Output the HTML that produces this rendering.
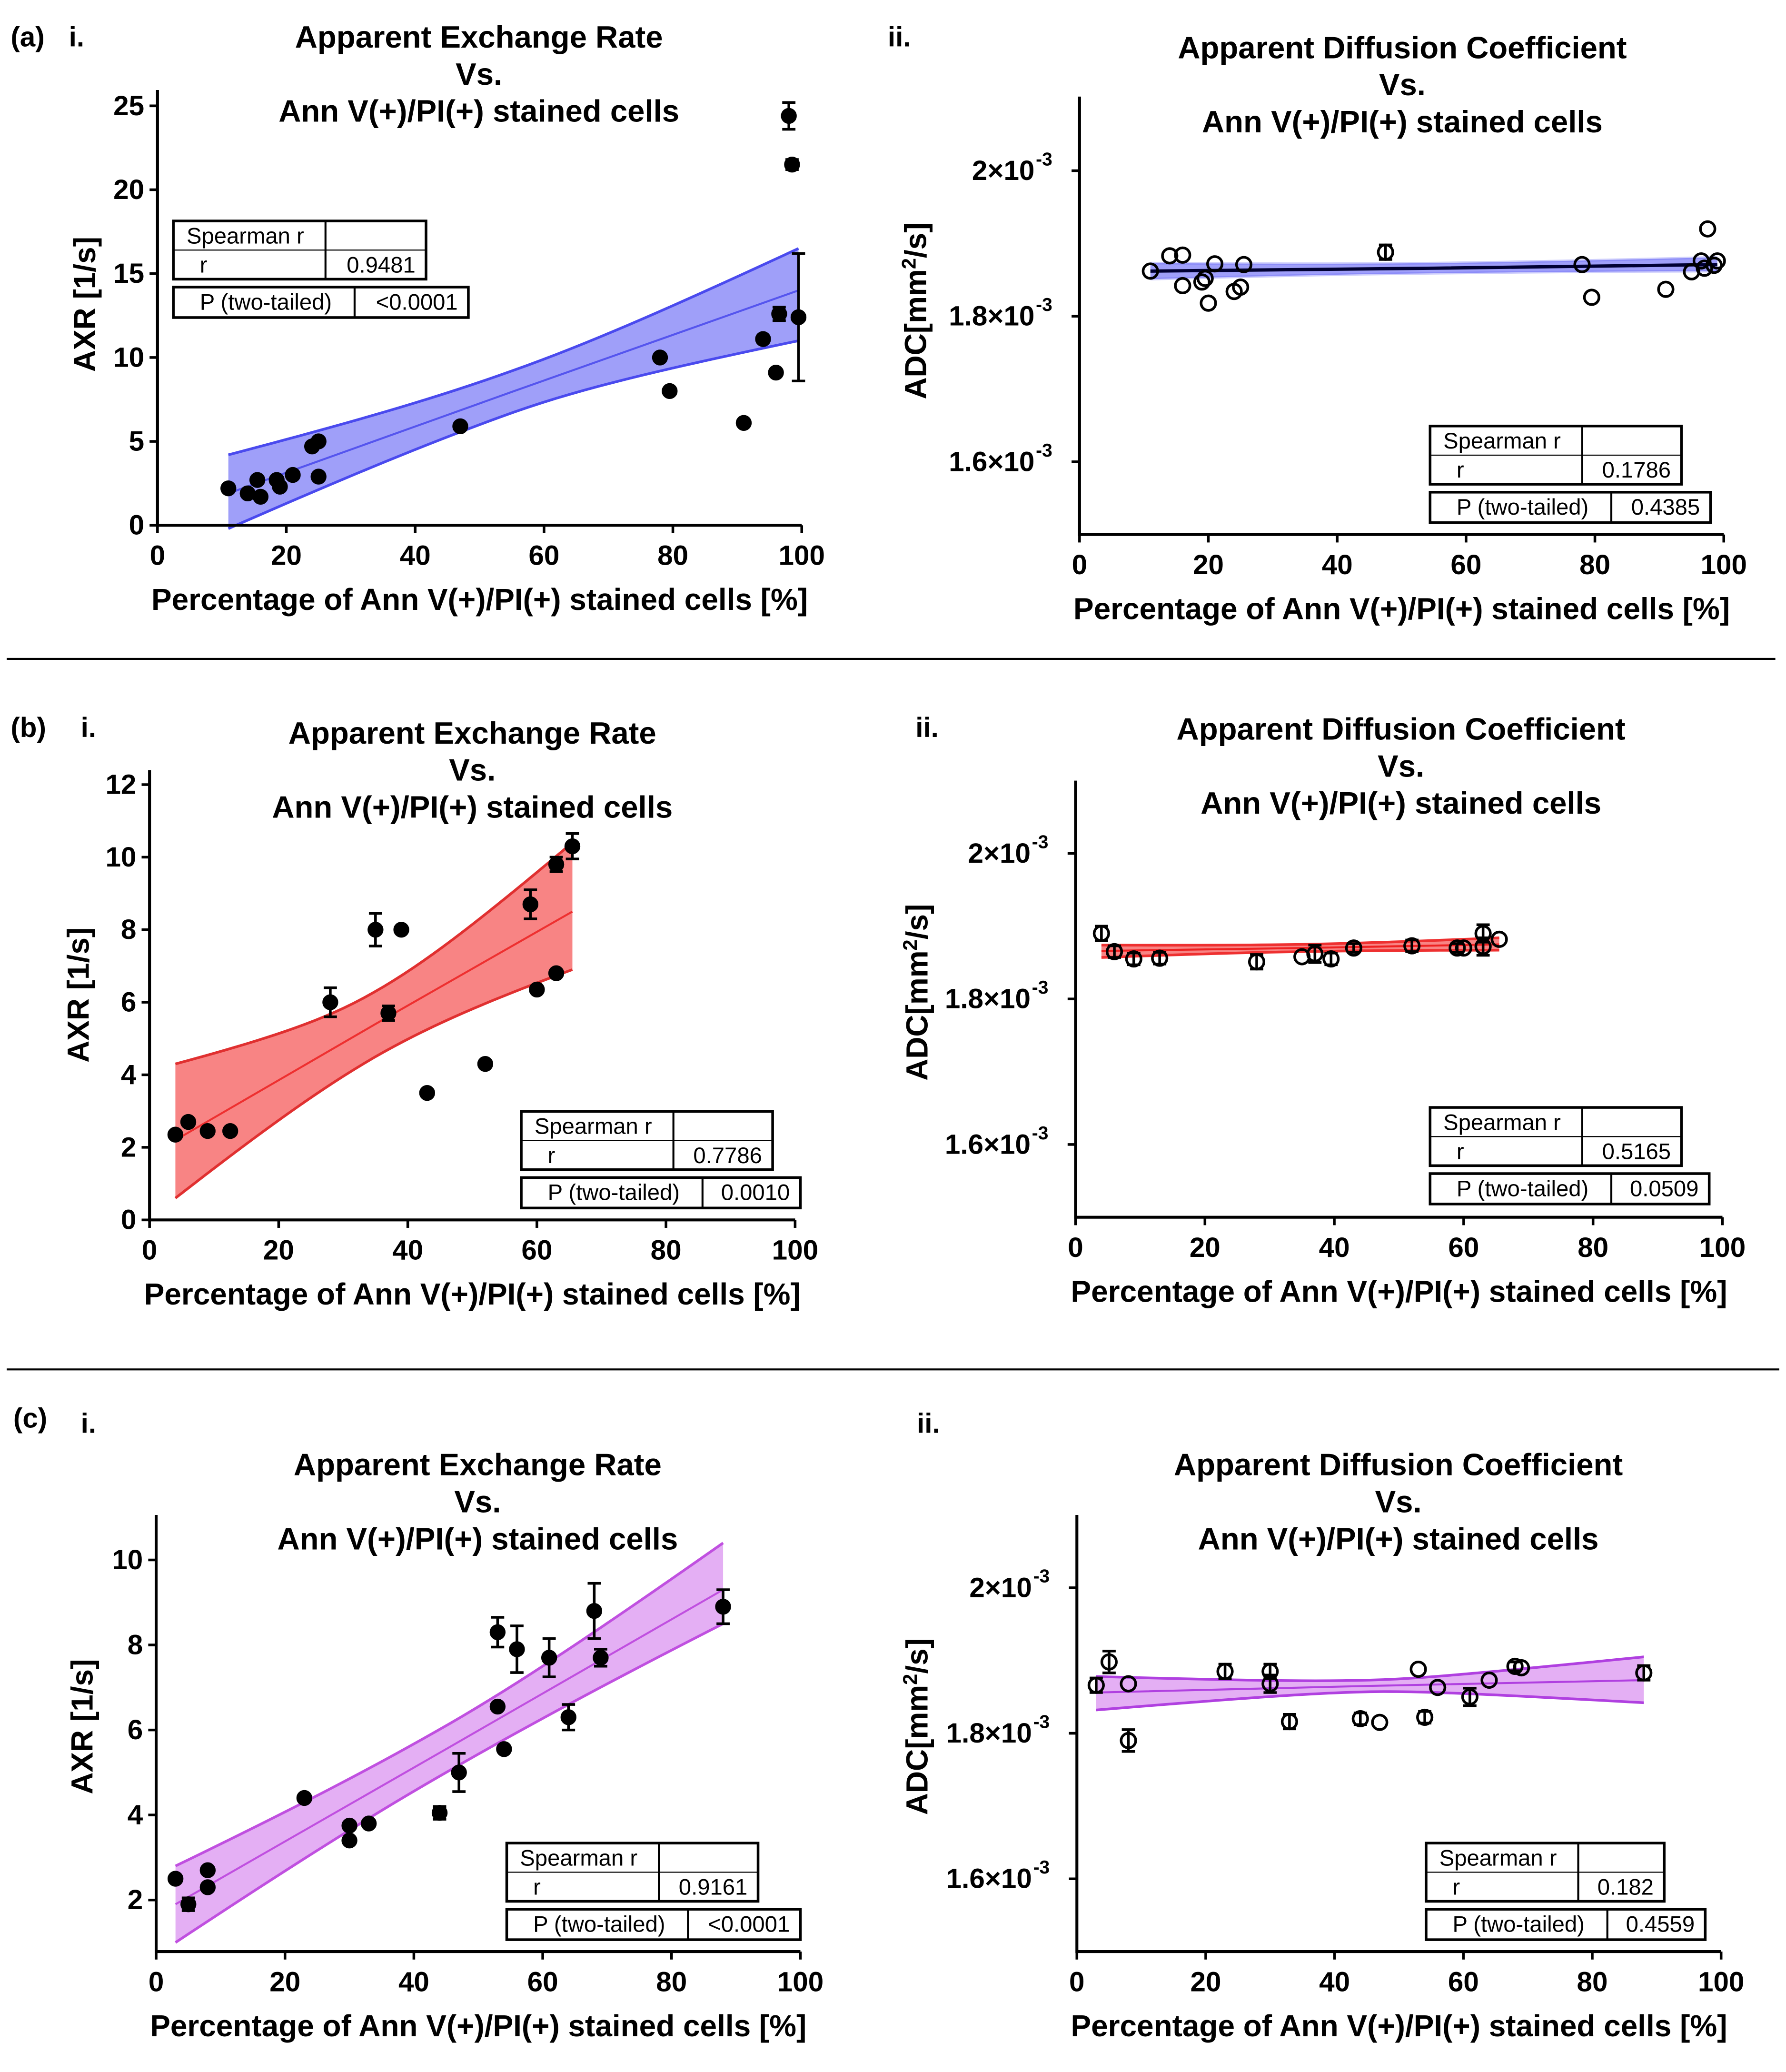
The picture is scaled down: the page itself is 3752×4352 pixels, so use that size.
<!DOCTYPE html>
<html><head><meta charset="utf-8"><style>html,body{margin:0;padding:0;background:#fff}svg{display:block}</style></head>
<body>
<svg id="fig" xmlns="http://www.w3.org/2000/svg" width="3752" height="4352" viewBox="0 0 1350 1566" font-family="'Liberation Sans', sans-serif">
<rect width="1350" height="1566" fill="#fff"/>
<line x1="5" y1="498" x2="1342" y2="498" stroke="#000" stroke-width="1.5"/>
<line x1="5" y1="1035" x2="1345" y2="1035" stroke="#000" stroke-width="1.5"/>
<g font-weight="bold" font-size="21">
<text x="8" y="35">(a)</text>
<text x="52" y="35">i.</text>
<text x="671" y="35">ii.</text>
<text x="8" y="557">(b)</text>
<text x="61" y="557">i.</text>
<text x="692" y="557">ii.</text>
<text x="10" y="1079">(c)</text>
<text x="61" y="1083">i.</text>
<text x="693" y="1083">ii.</text>
</g>
</svg>
<script>
// ---- data ----
const aiX=[11,14,15.5,16,18.5,19,21,24,25,25,47,78,79.5,91,94,96,96.5,98,98.5,99.5];
const aiY=[2.2,1.9,2.7,1.7,2.7,2.3,3,4.7,5,2.9,5.9,10,8,6.1,11.1,9.1,12.6,24.4,21.5,12.4];
const aiE=[0,0,0,0,0,0,0,0,0,0,0,0,0,0,0,0,0.4,0.8,0.3,3.8];
const aiFitX=[11,55,99.5];const aiFit=[1.9,7.95,14];const aiLo=[-0.2,6.7,11];const aiHi=[4.2,9.2,16.5];
const aiStats=["0.9481","<0.0001"];
const aiiX=[11,14,16,16,19,19.5,20,21,24,25,25.5,47.5,78,79.5,91,95,96.5,97,97.5,98.5,99];
const aiiY=[1.862,1.883,1.884,1.842,1.847,1.852,1.818,1.872,1.834,1.84,1.871,1.888,1.871,1.826,1.837,1.861,1.876,1.866,1.92,1.87,1.876];
const aiiE=[0,0,0,0,0,0,0,0,0,0,0,0.01,0,0,0,0,0,0,0,0,0];
const aiiFitX=[11,55,99];const aiiFit=[1.862,1.866,1.871];const aiiLo=[1.851,1.859,1.862];const aiiHi=[1.873,1.873,1.881];
const aiiStats=["0.1786","0.4385"];
const biX=[4,6,9,12.5,28,35,37,39,43,52,59,60,63,63,65.5];
const biY=[2.35,2.7,2.45,2.45,6,8,5.7,8,3.5,4.3,8.7,6.35,9.8,6.8,10.3];
const biE=[0,0,0,0,0.4,0.45,0.2,0,0,0,0.4,0,0.2,0,0.35];
const biFitX=[4,35,65.5];const biFit=[2.2,5.4,8.5];const biLo=[0.6,4.5,6.9];const biHi=[4.3,6.3,10.4];
const biStats=["0.7786","0.0010"];
const biiX=[4,6,9,13,28,35,37,39.5,43,52,59,60,63,63,65.5];
const biiY=[1.89,1.865,1.855,1.856,1.851,1.858,1.862,1.855,1.87,1.873,1.87,1.87,1.89,1.872,1.882];
const biiE=[0.01,0.008,0.008,0.008,0.01,0,0.012,0.008,0.006,0.008,0.006,0,0.012,0.012,0];
const biiFitX=[4,35,65.5];const biiFit=[1.866,1.870,1.875];const biiLo=[1.857,1.865,1.867];const biiHi=[1.874,1.875,1.884];
const biiStats=["0.5165","0.0509"];
const ciX=[3,5,8,8,23,30,30,33,44,47,53,53,54,56,61,64,68,69,88];
const ciY=[2.5,1.9,2.7,2.3,4.4,3.75,3.4,3.8,4.05,5,8.3,6.55,5.55,7.9,7.7,6.3,8.8,7.7,8.9];
const ciE=[0,0.15,0,0,0,0,0,0,0.15,0.45,0.35,0,0,0.55,0.45,0.3,0.65,0.2,0.4];
const ciFitX=[3,45,88];const ciFit=[1.9,5.55,9.3];const ciLo=[1.0,5.0,8.5];const ciHi=[2.8,6.1,10.4];
const ciStats=["0.9161","<0.0001"];
const ciiX=[3,5,8,8,23,30,30,33,44,47,53,54,56,61,64,68,69,88];
const ciiY=[1.866,1.898,1.868,1.79,1.885,1.868,1.885,1.816,1.82,1.815,1.888,1.822,1.863,1.85,1.873,1.892,1.89,1.883];
const ciiE=[0.01,0.015,0,0.015,0.01,0.012,0.01,0.01,0.008,0,0,0.008,0,0.012,0,0.006,0,0.01];
const ciiFitX=[3,45,88];const ciiFit=[1.856,1.865,1.873];const ciiLo=[1.832,1.857,1.842];const ciiHi=[1.878,1.873,1.905];
const ciiStats=["0.182","0.4559"];
const xTicks=[0,20,40,60,80,100];
const axrTicksA=[0,5,10,15,20,25];
const axrTicksB=[0,2,4,6,8,10,12];
const axrTicksC=[2,4,6,8,10];
const adcTicks=[1.6,1.8,2.0];
const adcTickLabels=["1.6","1.8","2"];

const NS="http://www.w3.org/2000/svg";
const svg=document.getElementById('fig');
function el(tag,attrs,parent){const e=document.createElementNS(NS,tag);for(const k in attrs)e.setAttribute(k,attrs[k]);(parent||svg).appendChild(e);return e;}

// interpolate band using hyperbola on each side of the middle point
function bandVal(fx,arr,fit,x){
  const xm=fx[1];
  const fitV=x<=xm?fit[0]+(fit[1]-fit[0])*(x-fx[0])/(xm-fx[0]):fit[1]+(fit[2]-fit[1])*(x-xm)/(fx[2]-xm);
  const wm=arr[1]-fit[1];
  const side=x<=xm?0:2;
  const we=arr[side]-fit[side];
  const t=(x-xm)/(fx[side]-xm);
  const s=Math.sign(wm)||Math.sign(we);
  const w=s*Math.sqrt(wm*wm+(we*we-wm*wm)*t*t);
  return fitV+w;
}

function panel(p){
  const g=el('g',{});
  
  
  const sx=v=>p.x0+(v-0)*(p.x1-p.x0)/100;
  const sy=v=>p.yA+(v-p.vA)*(p.yB-p.yA)/(p.vB-p.vA);
  const N=40;const top=[],bot=[];
  for(let i=0;i<=N;i++){
    const x=p.fx[0]+(p.fx[2]-p.fx[0])*i/N;
    top.push([sx(x),sy(bandVal(p.fx,p.hi,p.fit,x))]);
    bot.push([sx(x),sy(bandVal(p.fx,p.lo,p.fit,x))]);
  }
  const d='M'+top.map(q=>q.join(',')).join('L')+'L'+bot.slice().reverse().map(q=>q.join(',')).join('L')+'Z';
  const band=el('path',{d:d,fill:p.band,stroke:'none'},g);
  
  
  for(const arr of [top,bot]){
    const l=el('polyline',{points:arr.map(q=>q.join(',')).join(' '),fill:'none',stroke:p.edge,'stroke-width':2},g);
    
    
  }
  const fl=el('polyline',{points:p.fx.map((x,i)=>sx(x)+','+sy(p.fit[i])).join(' '),fill:'none',stroke:p.line,'stroke-width':p.lw},g);
  
  
  const ax=el('path',{d:`M${p.x0},${p.yTop}V${p.yBot}H${p.x1}`,fill:'none',stroke:'#000','stroke-width':2.2},g);
  
  
  xTicks.forEach(t=>{
    el('line',{x1:sx(t),y1:p.yBot,x2:sx(t),y2:p.yBot+6,stroke:'#000','stroke-width':2},g);
    const tx=el('text',{x:sx(t),y:p.yBot+30,'text-anchor':'middle','font-size':21,'font-weight':'bold'},g);
    tx.textContent=t;
    
    
  });
  p.yt.forEach((t,i)=>{
    el('line',{x1:p.x0-6,y1:sy(t),x2:p.x0,y2:sy(t),stroke:'#000','stroke-width':2},g);
    const tx=el('text',{x:p.x0-10,y:sy(t)+7,'text-anchor':'end','font-size':21,'font-weight':'bold'},g);
    
    
    if(p.adc){
      tx.setAttribute('x',p.x0-34);
      tx.textContent=adcTickLabels[i]+'\u00d710';
      const s=el('text',{x:p.x0-33,y:sy(t)-4,'font-size':14,'font-weight':'bold'},g);
      s.textContent='-3';
      
      
    } else tx.textContent=t;
  });
  const lines=['Apparent '+(p.adc?'Diffusion Coefficient':'Exchange Rate'),'Vs.','Ann V(+)/PI(+) stained cells'];
  lines.forEach((s,i)=>{
    const t=el('text',{x:p.tcx,y:p.tty+i*28,'text-anchor':'middle','font-size':23.5,'font-weight':'bold'},g);
    t.textContent=s;
    
    
  });
  const xt=el('text',{x:(p.x0+p.x1)/2,y:p.yBot+64,'text-anchor':'middle','font-size':23,'font-weight':'bold'},g);
  xt.textContent='Percentage of Ann V(+)/PI(+) stained cells [%]';
  
  
  const yt=el('text',{x:0,y:0,'text-anchor':'middle','font-size':23,'font-weight':'bold',transform:`translate(${p.ytx},${p.yty}) rotate(-90)`},g);
  
  
  if(p.adc){yt.textContent='ADC[mm';const s=el('tspan',{dy:-8,'font-size':15},yt);s.textContent='2';const r=el('tspan',{dy:8},yt);r.textContent='/s]';}
  else yt.textContent='AXR [1/s]';
  p.xs.forEach((xv,i)=>{
    const cx=sx(xv),cy=sy(p.ys[i]);
    if(p.es[i]>0){
      const y1=sy(p.ys[i]+p.es[i]),y2=sy(p.ys[i]-p.es[i]);
      const eb=el('path',{d:`M${cx},${y1}V${y2}M${cx-5},${y1}H${cx+5}M${cx-5},${y2}H${cx+5}`,stroke:'#000','stroke-width':2,fill:'none'},g);
      
      
    }
    const c=el('circle',{cx:cx,cy:cy,r:5.5,fill:p.adc?'none':'#000',stroke:'#000','stroke-width':p.adc?2:1},g);
    
    
  });
  const T=p.tb;
  const tg=el('g',{'font-size':17},g);
  
  
  el('rect',{x:T[0],y:T[1],width:T[2]-T[0],height:44,fill:'#fff',stroke:'#000','stroke-width':2},tg);
  el('line',{x1:T[0]+115,y1:T[1],x2:T[0]+115,y2:T[1]+44,stroke:'#000','stroke-width':1.5},tg);
  el('line',{x1:T[0],y1:T[1]+22,x2:T[2],y2:T[1]+22,stroke:'#000','stroke-width':0.8},tg);
  let t=el('text',{x:T[0]+10,y:T[1]+17},tg);t.textContent='Spearman r';
  t=el('text',{x:T[0]+20,y:T[1]+39},tg);t.textContent='r';
  t=el('text',{x:T[2]-8,y:T[1]+39,'text-anchor':'end'},tg);t.textContent=p.st[0];
  el('rect',{x:T[0],y:T[1]+50,width:T[3]-T[0],height:23,fill:'#fff',stroke:'#000','stroke-width':2},tg);
  el('line',{x1:T[0]+137,y1:T[1]+50,x2:T[0]+137,y2:T[1]+73,stroke:'#000','stroke-width':1.5},tg);
  t=el('text',{x:T[0]+20,y:T[1]+67},tg);t.textContent='P (two-tailed)';
  t=el('text',{x:T[3]-8,y:T[1]+67,'text-anchor':'end'},tg);t.textContent=p.st[1];
}
const blue='rgba(95,95,245,0.6)',red='rgba(245,80,80,0.7)',pur='rgba(205,110,235,0.55)';
panel({id:'panel-a-i',x0:119,x1:606,yA:397,vA:0,yB:80,vB:25,yTop:68,yBot:397,yt:axrTicksA,xs:aiX,ys:aiY,es:aiE,fx:aiFitX,fit:aiFit,lo:aiLo,hi:aiHi,band:blue,edge:'#4a4aee',line:'#5555ee',lw:1.5,tb:[131,167,322,354],st:aiStats,tcx:362,tty:36,ytx:72,yty:230});
panel({id:'panel-a-ii',adc:true,x0:816,x1:1303,yA:349,vA:1.6,yB:129,vB:2.0,yTop:73,yBot:404,yt:adcTicks,xs:aiiX,ys:aiiY,es:aiiE,fx:aiiFitX,fit:aiiFit,lo:aiiLo,hi:aiiHi,band:blue,edge:'rgba(95,95,245,0.3)',line:'#000033',lw:2.5,tb:[1081,322,1271,1293],st:aiiStats,tcx:1060,tty:44,ytx:700,yty:235});
panel({id:'panel-b-i',x0:113,x1:601,yA:922,vA:0,yB:593,vB:12,yTop:582,yBot:922,yt:axrTicksB,xs:biX,ys:biY,es:biE,fx:biFitX,fit:biFit,lo:biLo,hi:biHi,band:red,edge:'#e03030',line:'#ee3030',lw:1.5,tb:[394,840,584,605],st:biStats,tcx:357,tty:562,ytx:67,yty:752});
panel({id:'panel-b-ii',adc:true,x0:813,x1:1302,yA:865,vA:1.6,yB:645,vB:2.0,yTop:590,yBot:920,yt:adcTicks,xs:biiX,ys:biiY,es:biiE,fx:biiFitX,fit:biiFit,lo:biiLo,hi:biiHi,band:red,edge:'#ee3030',line:'#ee2020',lw:1.5,tb:[1081,837,1271,1292],st:biiStats,tcx:1059,tty:559,ytx:701,yty:750});
panel({id:'panel-c-i',x0:118,x1:605,yA:1436,vA:2,yB:1179,vB:10,yTop:1145,yBot:1475,yt:axrTicksC,xs:ciX,ys:ciY,es:ciE,fx:ciFitX,fit:ciFit,lo:ciLo,hi:ciHi,band:pur,edge:'#c050e0',line:'#c050e0',lw:1.5,tb:[383,1393,573,605],st:ciStats,tcx:361,tty:1115,ytx:70,yty:1305});
panel({id:'panel-c-ii',adc:true,x0:814,x1:1301,yA:1420,vA:1.6,yB:1200,vB:2.0,yTop:1145,yBot:1475,yt:adcTicks,xs:ciiX,ys:ciiY,es:ciiE,fx:ciiFitX,fit:ciiFit,lo:ciiLo,hi:ciiHi,band:pur,edge:'#b040e0',line:'#b040e0',lw:1.5,tb:[1078,1393,1258,1289],st:ciiStats,tcx:1057,tty:1115,ytx:701,yty:1305});
</script>
</body></html>
